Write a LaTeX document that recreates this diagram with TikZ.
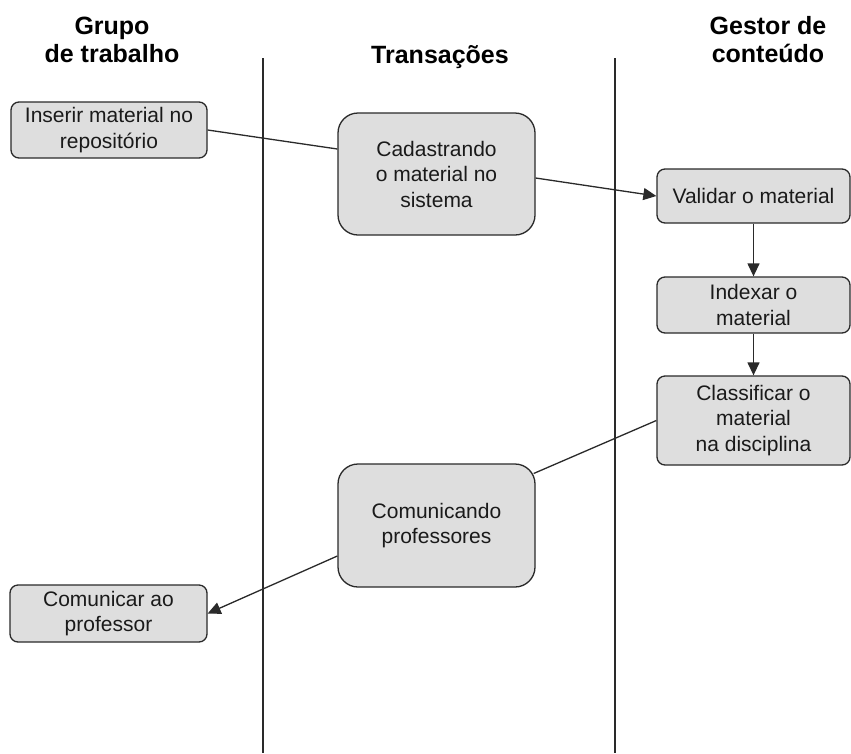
\documentclass[tikz,border=0pt]{standalone}
\usepackage{fontspec}
\setmainfont{Liberation Sans}
\usetikzlibrary{arrows.meta}
\definecolor{boxfill}{HTML}{DEDEDE}
\definecolor{edge}{HTML}{2A2A2A}
\definecolor{ink}{HTML}{1A1A1A}
\begin{document}
\begin{tikzpicture}[x=1pt,y=-1pt,
  lane/.style={draw=edge, line width=1.5pt},
  header/.style={font=\bfseries\fontsize{25}{28}\selectfont, text=black, align=center, inner sep=0pt},
  task/.style={draw=edge, fill=boxfill, line width=1.3pt, rounded corners=8pt, align=center,
    text=ink, inner sep=0pt, font=\fontsize{21}{25.5}\selectfont},
  bigtask/.style={task, rounded corners=20pt},
  link/.style={draw=edge, line width=1.3pt},
  tip/.style={-{Triangle[length=13pt,width=12pt]}}
]
\useasboundingbox (0,0) rectangle (851,753);
\fill[white] (0,0) rectangle (851,753);

% swimlane separators
\coordinate (l1top) at (263,58);
\coordinate (l1bot) at (263,753);
\coordinate (l2top) at (615,58);
\coordinate (l2bot) at (615,753);
\draw[lane] (l1top) -- (l1bot);
\draw[lane] (l2top) -- (l2bot);

% lane headers
\node[header] (h1) at (112,40) {Grupo\\de trabalho};
\node[header, anchor=base] (h2) at (440,63) {Transações};
\node[header] (h3) at (768,40) {Gestor de\\conteúdo};

% activities
\node[task, minimum width=196pt, minimum height=56pt] (ins) at (109,130) {Inserir material no\\repositório};
\node[bigtask, minimum width=197pt, minimum height=122pt] (cad) at (436.5,174) {Cadastrando\\o material no\\sistema};
\node[task, minimum width=193pt, minimum height=54pt] (val) at (753.5,196) {Validar o material};
\node[task, minimum width=193pt, minimum height=56pt] (idx) at (753.5,305) {Indexar o\\material};
\node[task, minimum width=193pt, minimum height=89pt] (cls) at (753.5,420.5) {Classificar o\\material\\na disciplina};
\node[bigtask, minimum width=197pt, minimum height=123pt] (com) at (436.5,525.5) {Comunicando\\professores};
\node[task, minimum width=197pt, minimum height=57pt] (cap) at (108.5,613.5) {Comunicar ao\\professor};

% flow
\draw[link] (ins.east) -- ([yshift=25pt]cad.west);
\draw[link, tip] ([yshift=-4pt]cad.east) -- (val.west);
\draw[link, tip] (val.south) -- (idx.north);
\draw[link, tip] (idx.south) -- (cls.north);
\draw[link] (cls.west) -- ([xshift=-2pt,yshift=52pt]com.east);
\draw[link, tip] ([yshift=-30.5pt]com.west) -- (cap.east);
\end{tikzpicture}
\end{document}
